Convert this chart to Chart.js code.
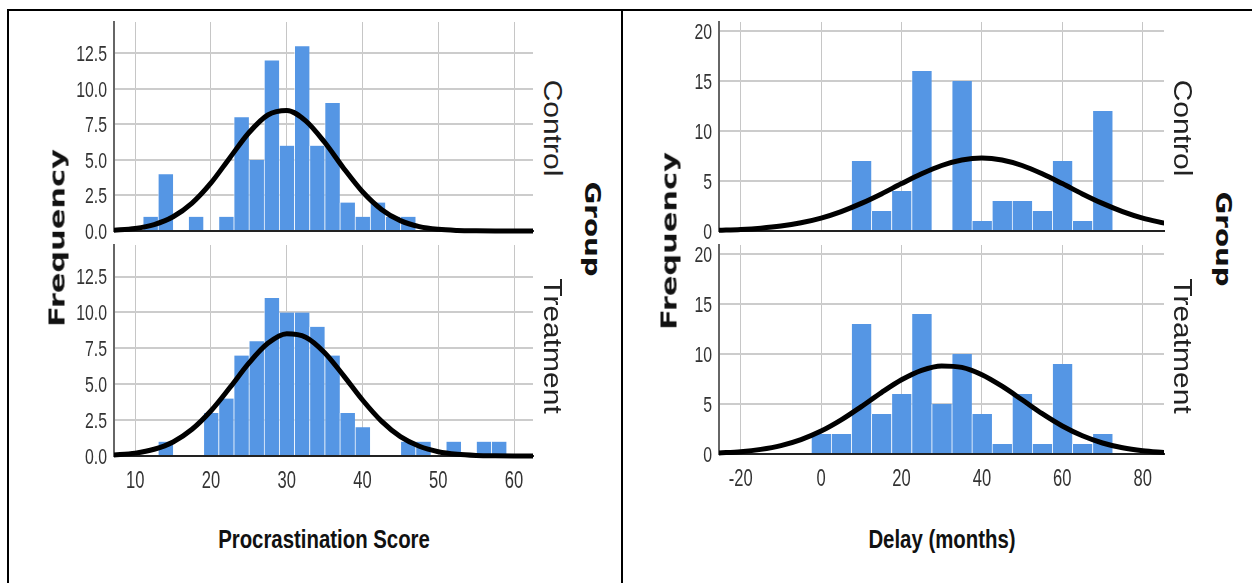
<!DOCTYPE html>
<html>
<head>
<meta charset="utf-8">
<title>Procrastination score and delay by group</title>
<script src="https://cdn.jsdelivr.net/npm/chart.js@4.4.1/dist/chart.umd.min.js"></script>
<style>
  html, body { margin: 0; padding: 0; background: #fff; }
  body { width: 1252px; height: 583px; position: relative; overflow: hidden; }
  .box { position: absolute; }
  .rule { position: absolute; background: #000; }
  .lbl { position: absolute; white-space: nowrap; line-height: 1; color: #111; z-index: 2; }
  .freq { font: bold 22px 'DejaVu Sans', Verdana, sans-serif; transform: translate(-50%, -50%) rotate(-90deg) scaleX(1.38); }
  .group { font: bold 21px 'DejaVu Sans', Verdana, sans-serif; transform: translate(-50%, -50%) rotate(90deg) scaleX(1.32); }
  .level { font: 25px 'Liberation Sans', Arial, sans-serif; color: #222; transform: translate(-50%, -50%) rotate(90deg) scaleX(1.2); }
  .xtitle { font: bold 25px 'Liberation Sans', Arial, sans-serif; transform: translate(-50%, -50%) scaleX(0.815); }
</style>
</head>
<body>
<div class="rule" style="left:7px; top:9px; width:1245px; height:2px"></div>
<div class="rule" style="left:7px; top:9px; width:2px; height:574px"></div>
<div class="rule" style="left:621px; top:9px; width:2px; height:574px"></div>

<div class="box" style="left:54px; top:12px; width:483px; height:231px"><canvas id="scoreControl"></canvas></div>
<div class="box" style="left:54px; top:235px; width:483px; height:261px"><canvas id="scoreTreatment"></canvas></div>
<div class="box" style="left:659px; top:12px; width:509px; height:231px"><canvas id="delayControl"></canvas></div>
<div class="box" style="left:659px; top:235px; width:509px; height:259px"><canvas id="delayTreatment"></canvas></div>

<div class="lbl freq" style="left:57px; top:238px">Frequency</div>
<div class="lbl level" style="left:552px; top:128px">Control</div>
<div class="lbl level" style="left:552px; top:346px">Treatment</div>
<div class="lbl group" style="left:592px; top:229px">Group</div>
<div class="lbl xtitle" style="left:324px; top:539px">Procrastination Score</div>

<div class="lbl freq" style="left:669px; top:241px">Frequency</div>
<div class="lbl level" style="left:1182px; top:128px">Control</div>
<div class="lbl level" style="left:1182px; top:346px">Treatment</div>
<div class="lbl group" style="left:1223px; top:239px">Group</div>
<div class="lbl xtitle" style="left:942px; top:539px">Delay (months)</div>

<script>
(function () {
    "use strict";

    // histogram bins (bin centres) and counts
    var scoreBins = [12, 14, 16, 18, 20, 22, 24, 26, 28, 30, 32, 34, 36, 38, 40, 42, 44, 46, 48, 50, 52, 54, 56, 58];
    var scoreControl = [1, 4, 0, 1, 0, 1, 8, 5, 12, 6, 13, 6, 9, 2, 1, 2, 1, 1, 0, 0, 0, 0, 0, 0];
    var scoreTreatment = [0, 1, 0, 0, 3, 4, 7, 8, 11, 10, 10, 9, 7, 3, 2, 0, 0, 1, 1, 0, 1, 0, 1, 1];

    var delayBins = [0, 5, 10, 15, 20, 25, 30, 35, 40, 45, 50, 55, 60, 65, 70];
    var delayControl = [0, 0, 7, 2, 4, 16, 0, 15, 1, 3, 3, 2, 7, 1, 12];
    var delayTreatment = [2, 2, 13, 4, 6, 14, 5, 10, 4, 1, 6, 1, 9, 1, 2];

    // normal curves
    var scoreCurveX = [7, 10, 12.5, 15, 17.5, 20, 22.5, 25, 27.5, 30, 32.5, 35, 37.5, 40, 42.5, 45, 47.5, 50, 52.5, 55, 57.5, 60, 63];
    var scoreControlCurve = [0.05, 0.18, 0.45, 1.00, 1.96, 3.38, 5.16, 6.91, 8.16, 8.48, 7.75, 6.24, 4.42, 2.76, 1.52, 0.73, 0.31, 0.12, 0.04, 0.01, 0, 0, 0];
    var scoreTreatmentCurve = [0.06, 0.20, 0.47, 0.98, 1.86, 3.15, 4.77, 6.47, 7.85, 8.52, 8.28, 7.20, 5.60, 3.90, 2.43, 1.35, 0.68, 0.30, 0.12, 0.04, 0.01, 0, 0];

    var delayCurveX = [-25.5, -20, -15, -10, -5, 0, 5, 10, 15, 20, 25, 30, 35, 40, 45, 50, 55, 60, 65, 70, 75, 80, 85.5];
    var delayControlCurve = [0.07, 0.15, 0.28, 0.49, 0.82, 1.29, 1.94, 2.76, 3.71, 4.74, 5.72, 6.55, 7.10, 7.30, 7.10, 6.55, 5.72, 4.74, 3.71, 2.76, 1.94, 1.29, 0.78];
    var delayTreatmentCurve = [0.10, 0.23, 0.46, 0.84, 1.44, 2.29, 3.41, 4.74, 6.14, 7.42, 8.37, 8.81, 8.66, 7.93, 6.78, 5.42, 4.03, 2.80, 1.82, 1.10, 0.62, 0.33, 0.15];

    // tick labels
    var scoreTicks = [10, 20, 30, 40, 50, 60];
    var scoreFreqTicks = [0, 2.5, 5, 7.5, 10, 12.5];
    var delayTicks = [-20, 0, 20, 40, 60, 80];
    var delayFreqTicks = [0, 5, 10, 15, 20];

    var BAR_BLUE = '#5596e4';
    var BAR_EDGE = 'rgba(255,255,255,0.55)';
    var TICK_FONT = "'Liberation Sans', Arial, sans-serif";
    var Y_TICK_SIZE = 22;
    var X_TICK_SIZE = 23;
    var SQUEEZE = 0.72;   // the original tick text is a condensed face

    function toPoints(xs, ys, dropZero) {
        return xs.map(function (x, i) {
            var y = ys[i];
            return { x: x, y: (dropZero && !y) ? null : y };
        });
    }

    function squashedText(ctx, text, x, y) {
        ctx.save();
        ctx.translate(x, y);
        ctx.scale(SQUEEZE, 1);
        ctx.fillText(text, 0, 0);
        ctx.restore();
    }

    // tick labels drawn at the scales' own pixel positions, in a narrow face
    var narrowTicks = {
        id: 'narrowTicks',
        afterDraw: function (chart, args, opts) {
            var ctx = chart.ctx;
            var xs = chart.scales.x, ys = chart.scales.y;
            ctx.save();
            ctx.fillStyle = '#333';
            ctx.textBaseline = 'alphabetic';
            ctx.textAlign = 'right';
            ctx.font = Y_TICK_SIZE + 'px ' + TICK_FONT;
            ys.ticks.forEach(function (t) {
                var py = ys.getPixelForValue(t.value);
                squashedText(ctx, opts.fmt(t.value), ys.right - 7, py + Y_TICK_SIZE * 0.358);
            });
            if (opts.showX) {
                ctx.textAlign = 'center';
                ctx.font = X_TICK_SIZE + 'px ' + TICK_FONT;
                xs.ticks.forEach(function (t) {
                    squashedText(ctx, String(t.value), xs.getPixelForValue(t.value), xs.top + 32);
                });
            }
            ctx.restore();
        }
    };

    function noPad(s) {
        s.paddingTop = 0; s.paddingBottom = 0; s.paddingLeft = 0; s.paddingRight = 0;
    }

    function drawPanel(id, cfg) {
        var el = document.getElementById(id);
        return new Chart(el, {
            type: 'bar',
            data: {
                datasets: [
                    {
                        type: 'line',
                        data: toPoints(cfg.curveX, cfg.curve, false),
                        borderColor: '#000',
                        borderWidth: 5,
                        borderCapStyle: 'round',
                        pointRadius: 0,
                        tension: 0.4,
                        cubicInterpolationMode: 'monotone',
                        clip: { left: 0, right: 0, top: 10, bottom: 8 },
                        order: 0
                    },
                    {
                        type: 'bar',
                        data: toPoints(cfg.bins, cfg.counts, true),
                        backgroundColor: BAR_BLUE,
                        borderColor: BAR_EDGE,
                        borderWidth: { left: 1, top: 0, right: 0, bottom: 0 },
                        borderSkipped: false,
                        barPercentage: 1,
                        categoryPercentage: 1,
                        order: 1
                    }
                ]
            },
            plugins: [narrowTicks],
            options: {
                responsive: true,
                maintainAspectRatio: false,
                animation: false,
                events: [],
                layout: { autoPadding: false, padding: { top: 10, right: 4, left: 0, bottom: 0 } },
                plugins: {
                    legend: { display: false },
                    tooltip: { enabled: false },
                    narrowTicks: { fmt: cfg.fmt, showX: cfg.showX }
                },
                scales: {
                    x: {
                        type: 'linear',
                        min: cfg.xMin,
                        max: cfg.xMax,
                        offset: false,
                        afterBuildTicks: function (s) { s.ticks = cfg.xTicks.map(function (v) { return { value: v }; }); },
                        afterFit: function (s) { s.height = cfg.xAxisH; noPad(s); },
                        grid: { color: '#c6c6c6', lineWidth: 1, drawTicks: false, offset: false },
                        border: { color: '#222', width: 2 },
                        ticks: { display: false }
                    },
                    y: {
                        min: 0,
                        max: cfg.yMax,
                        afterBuildTicks: function (s) { s.ticks = cfg.yTicks.map(function (v) { return { value: v }; }); },
                        afterFit: function (s) { s.width = 60; noPad(s); },
                        grid: { color: '#cccccc', lineWidth: 2, drawTicks: false },
                        border: { color: '#666', width: 2 },
                        ticks: { display: false }
                    }
                }
            }
        });
    }

    var fmtScore = function (v) { return v.toFixed(1); };
    var fmtDelay = function (v) { return String(v); };

    drawPanel('scoreControl', {
        bins: scoreBins, counts: scoreControl, curveX: scoreCurveX, curve: scoreControlCurve,
        xMin: 7.2, xMax: 62.5, yMax: 14.7, xTicks: scoreTicks, yTicks: scoreFreqTicks,
        fmt: fmtScore, showX: false, xAxisH: 12
    });
    drawPanel('scoreTreatment', {
        bins: scoreBins, counts: scoreTreatment, curveX: scoreCurveX, curve: scoreTreatmentCurve,
        xMin: 7.2, xMax: 62.5, yMax: 14.7, xTicks: scoreTicks, yTicks: scoreFreqTicks,
        fmt: fmtScore, showX: true, xAxisH: 40
    });
    drawPanel('delayControl', {
        bins: delayBins, counts: delayControl, curveX: delayCurveX, curve: delayControlCurve,
        xMin: -25.4, xMax: 85.3, yMax: 20.9, xTicks: delayTicks, yTicks: delayFreqTicks,
        fmt: fmtDelay, showX: false, xAxisH: 12
    });
    drawPanel('delayTreatment', {
        bins: delayBins, counts: delayTreatment, curveX: delayCurveX, curve: delayTreatmentCurve,
        xMin: -25.4, xMax: 85.3, yMax: 20.9, xTicks: delayTicks, yTicks: delayFreqTicks,
        fmt: fmtDelay, showX: true, xAxisH: 40
    });
}());
</script>
</body>
</html>
